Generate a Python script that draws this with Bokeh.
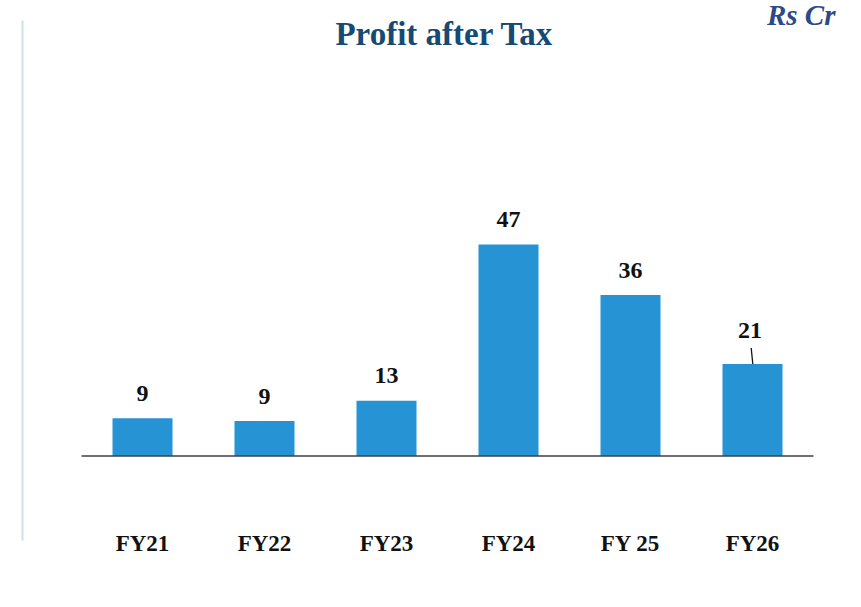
from bokeh.plotting import figure
from bokeh.models import Range1d, ColumnDataSource
from bokeh.core.properties import value
from bokeh.embed import file_html
from bokeh.resources import INLINE

# ---- data ----
categories = ["FY21", "FY22", "FY23", "FY24", "FY 25", "FY26"]
profit = [9.2, 8.6, 13.0, 47.0, 36.0, 21.0]
value_labels = [str(int(round(v))) for v in profit]
title_text = "Profit after Tax"
unit_text = "Rs Cr"

# ---- layout helpers (page pixel -> data) ----
W, H = 845, 591
BASE = 1.0            # value at the baseline
PX_PER_UNIT = 4.6     # vertical scale
PX_PER_CAT = 122.0    # horizontal spacing
X0_PAGE = 142.0       # page x of first category centre
BASE_PAGE = 455.5     # page y of baseline
TXT_SHIFT = 8         # text baseline correction (px, upward)


def dx(px):
    return (px - X0_PAGE) / PX_PER_CAT


def dy(py):
    return BASE + (BASE_PAGE - py) / PX_PER_UNIT


def ty(py):
    return dy(py - TXT_SHIFT)


FONT = value("Liberation Serif")

p = figure(width=W, height=H, output_backend="svg", toolbar_location=None,
           x_range=Range1d(dx(0), dx(W)), y_range=Range1d(dy(H), dy(0)),
           min_border=0, min_border_left=0, min_border_right=0,
           min_border_top=0, min_border_bottom=0)
p.axis.visible = False
p.grid.visible = False
p.outline_line_color = None
p.background_fill_color = "white"
p.border_fill_color = "white"

idx = list(range(len(categories)))
src = ColumnDataSource(dict(x=idx, top=profit, cat=categories, lab=value_labels))

# light vertical rule at left
p.segment(x0=[dx(22)], y0=[dy(20)], x1=[dx(22)], y1=[dy(540)],
          line_color="#CFDFEC", line_width=2)

# bars
p.vbar(x="x", top="top", bottom=BASE, width=60 / PX_PER_CAT, source=src,
       fill_color="#2593D4", line_color=None)

# baseline
p.segment(x0=[-0.5], y0=[BASE], x1=[len(categories) - 0.5], y1=[BASE],
          line_color="#404040", line_width=1.5)

# value labels (last one raised with a leader line)
gaps = [17 + TXT_SHIFT] * 5 + [26 + TXT_SHIFT]
lab_y = [v + g / PX_PER_UNIT for v, g in zip(profit, gaps)]
lab_x = [i + (0.0 if i < 5 else -2.5 / PX_PER_CAT) for i in idx]
p.text(x=lab_x, y=lab_y, text=value_labels, text_font=FONT,
       text_font_style="bold", text_font_size="24px", text_color="#111111",
       text_align="center", text_baseline="alphabetic")
last = len(profit) - 1
p.segment(x0=[last + 0.3 / PX_PER_CAT], y0=[profit[last]],
          x1=[last - 1.3 / PX_PER_CAT], y1=[profit[last] + 16 / PX_PER_UNIT],
          line_color="#111111", line_width=1.3)

# category labels
p.text(x="x", y=ty(551), text="cat", source=src, text_font=FONT,
       text_font_style="bold", text_font_size="23px", text_color="#111111",
       text_align="center", text_baseline="alphabetic")

# title and unit
p.text(x=[dx(444)], y=[ty(41)], text=[title_text], text_font=FONT,
       text_font_style="bold", text_font_size="33px", text_color="#174A73",
       text_align="center", text_baseline="alphabetic")
p.text(x=[dx(835)], y=[ty(22)], text=[unit_text], text_font=FONT,
       text_font_style="bold italic", text_font_size="29px", text_color="#2C4A8A",
       text_align="right", text_baseline="alphabetic")

open("out.html", "w").write(file_html(p, INLINE))
